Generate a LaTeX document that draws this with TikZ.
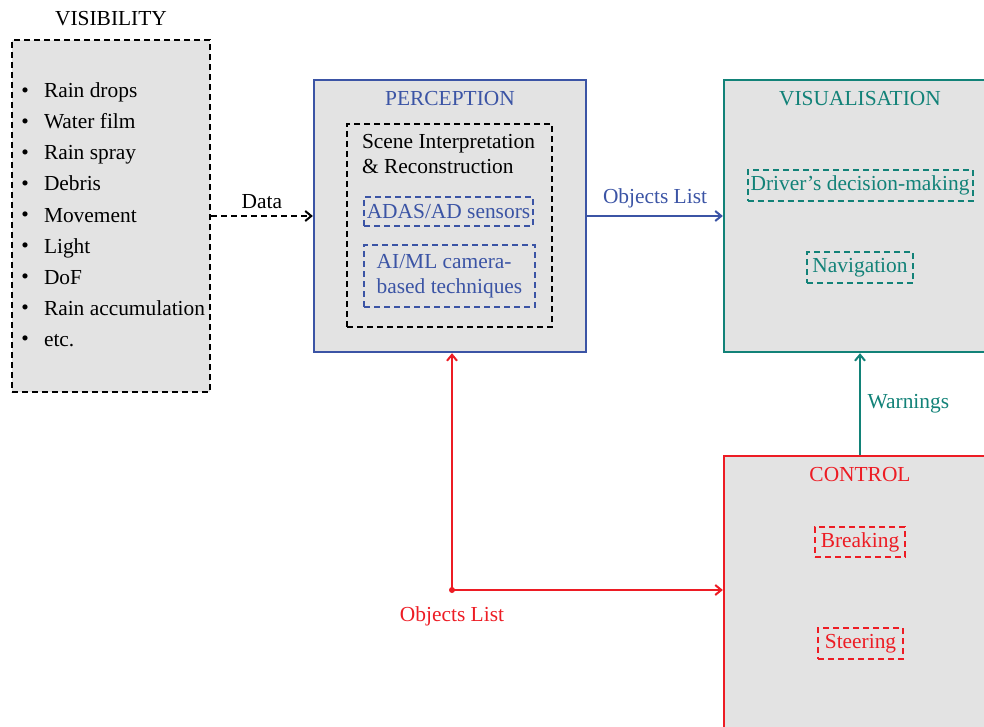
\documentclass[tikz,border=0pt]{standalone}
\usepackage{fontspec}
\setmainfont{Liberation Serif}
\usetikzlibrary{chains,positioning,arrows.meta}

\definecolor{boxgrey}{RGB}{227,227,227}
\definecolor{percblue}{RGB}{59,84,165}
\definecolor{visteal}{RGB}{18,130,120}
\definecolor{ctrlred}{RGB}{237,28,36}

\begin{document}
\begin{tikzpicture}[x=0.5pt,y=-0.5pt]
	\tikzstyle{every node}=[font=\fontsize{10.7}{12.5}\selectfont]

	\edef\sizeblock{136pt}
	\tikzstyle{block}=[draw,fill=boxgrey,line width=1.2pt,minimum size=\sizeblock,inner sep=0pt]
	\tikzstyle{dbox}=[draw,line width=1pt,dash pattern=on 3pt off 2pt,inner sep=1pt]
	\tikzstyle{vitem}=[on chain=1,text width=84pt,align=flush left,inner sep=0pt,outer sep=0pt,
	minimum height=15.5pt,text height=7.5pt,text depth=2.5pt,
	label={[label distance=4pt]west:\textbullet}]
	\tikzstyle{link}=[line width=1pt,-{Straight Barb[length=3pt,width=5pt]}]

	\useasboundingbox (0,0) rectangle (984,727);
	\clip (0,0) rectangle (984,727);

	%% Visibility block
	\node [dbox,fill=boxgrey,minimum width=99pt,minimum height=176pt] (visib) at (111,216) {};
	\node [above=3pt of visib.north] (visibtitle) {VISIBILITY};

	\begin{scope}[start chain=1 going below,node distance=0pt]
	\node [vitem] (drops) at (128,93) {Rain drops};
	\node [vitem] (film) {Water film};
	\node [vitem] (spray) {Rain spray};
	\node [vitem] (debris) {Debris};
	\node [vitem] (movement) {Movement};
	\node [vitem] (light) {Light};
	\node [vitem] (dof) {DoF};
	\node [vitem] (accum) {Rain accumulation};
	\node [vitem] (etc) {etc.};
	\end{scope}

	%% Perception block
	\node [block,draw=percblue] (perc) at (450,216) {};
	\node [below=2.6pt of perc.north,text=percblue] (perctitle) {PERCEPTION};
	\node [dbox,minimum width=102.5pt,minimum height=101.5pt] (scene) at (449.5,225.5) {};
	\node [anchor=west,align=left] (scenetxt) at (355,154.5) {Scene Interpretation\\\& Reconstruction};
	\node [dbox,draw=percblue,text=percblue,minimum width=84.5pt,minimum height=14.5pt] (adas) at (448.5,211.5) {ADAS/AD sensors};
	\node [dbox,draw=percblue,text=percblue,align=left,minimum width=85.5pt,minimum height=31pt] (aiml) at (449.5,276) {AI/ML camera-\\based techniques};

	%% Visualisation block
	\node [block,draw=visteal] (visu) at (860,216) {};
	\node [below=2.6pt of visu.north,text=visteal] (visutitle) {VISUALISATION};
	\node [dbox,draw=visteal,text=visteal,minimum width=112.5pt,minimum height=15.5pt] (driver) at (860,185.5) {Driver's decision-making};
	\node [dbox,draw=visteal,text=visteal,minimum width=53pt,minimum height=15.5pt] (navi) at (860,267.5) {Navigation};

	%% Control block
	\node [block,draw=ctrlred] (ctrl) at (860,592) {};
	\node [below=2.6pt of ctrl.north,text=ctrlred] (ctrltitle) {CONTROL};
	\node [dbox,draw=ctrlred,text=ctrlred,minimum width=45pt,minimum height=15pt] (brake) at (860,542) {Breaking};
	\node [dbox,draw=ctrlred,text=ctrlred,minimum width=42.5pt,minimum height=15.5pt] (steer) at (860.5,643.5) {Steering};

	%% Connections
	\draw [link,dash pattern=on 3pt off 2pt] (visib.east) -- node [above] (datalbl) {Data} (perc.west);
	\draw [link,percblue] (perc.east) -- node [above] (objlbl) {Objects List} (visu.west);
	\draw [link,visteal] (ctrl.north) -- node [right] (warnlbl) {Warnings} (visu.south);

	\coordinate (split) at (452,590);
	\draw [link,ctrlred] (split) -- (split |- perc.south);
	\draw [link,ctrlred] (split) -- (split -| ctrl.west);
	\fill [ctrlred] (split) circle (1.5pt);
	\node [below=5pt of split,text=ctrlred] (objlbl2) {Objects List};

\end{tikzpicture}
\end{document}
